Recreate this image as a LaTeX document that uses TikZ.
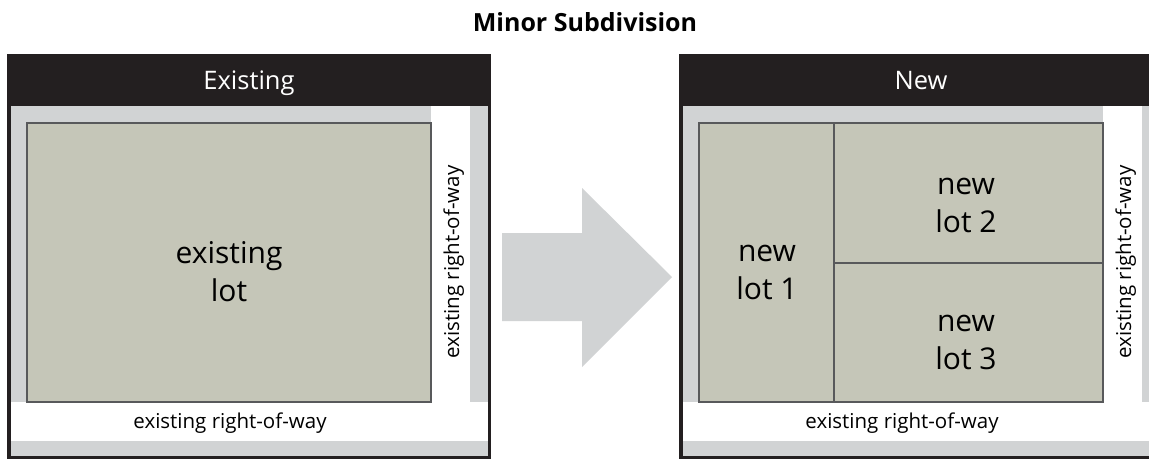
\documentclass[tikz,border=0pt]{standalone}
\usepackage{fontspec}
\setmainfont{Open Sans}
\definecolor{hdr}{HTML}{231F20}
\definecolor{row}{HTML}{D1D3D4}
\definecolor{lotfill}{HTML}{C5C6B8}
\definecolor{lotline}{HTML}{58595B}
\tikzset{
  lotbox/.style={fill=lotfill,draw=lotline,line width=2.8pt},
  lottext/.style={align=center,font=\fontsize{30}{38}\selectfont,text=black,inner sep=0pt},
  rowtext/.style={font=\fontsize{20.5}{24}\selectfont,text=black,inner sep=0pt,anchor=base},
  hdrtext/.style={font=\fontsize{25.5}{28}\selectfont,text=white,inner sep=0pt,anchor=base},
  framebox/.style={draw=hdr,line width=3.5pt},
}
\begin{document}
\begin{tikzpicture}[x=1pt,y=-1pt]
\useasboundingbox (0,0) rectangle (1149,459);
\clip (0,0) rectangle (1149,459);
\fill[white] (0,0) rectangle (1149,459);
\node[font=\bfseries\fontsize{25}{28}\selectfont,inner sep=0pt,anchor=base] (title) at (585,31) {Minor Subdivision};
% arrow
\fill[row] (502,233) -- (582,233) -- (582,188) -- (672,277) -- (582,367) -- (582,321) -- (502,321) -- cycle;
% panels
\foreach \dx/\hd/\pn in {0/Existing/L,672/New/R}{
  \begin{scope}[xshift=\dx pt]
    \fill[row] (9,106) rectangle (489,456);
    \fill[white] (9,402) rectangle (489,441);
    \fill[white] (431,106) rectangle (470,402);
    \fill[hdr] (7,54) rectangle (491,106);
    \draw[framebox] (8.75,54) -- (8.75,457.25) -- (489.25,457.25) -- (489.25,54);
    \node[hdrtext] (hdr\pn) at (249,89) {\hd};
    \node[rowtext] (row\pn) at (230,428) {existing right-of-way};
    \node[rowtext,rotate=90] (side\pn) at (459,262) {existing right-of-way};
  \end{scope}
}
% existing lot
\draw[lotbox] (27,123) rectangle (431,402);
\node[lottext] (exlot) at (229,272) {existing\\lot};
% new lots
\draw[lotbox] (699,123) rectangle (834,402);
\draw[lotbox] (834,123) rectangle (1103,263);
\draw[lotbox] (834,263) rectangle (1103,402);
\node[lottext] (lot1) at (767,272) {new\\lot 1};
\node[lottext] (lot2) at (966,205) {new\\lot 2};
\node[lottext] (lot3) at (966,342) {new\\lot 3};
\end{tikzpicture}
\end{document}
